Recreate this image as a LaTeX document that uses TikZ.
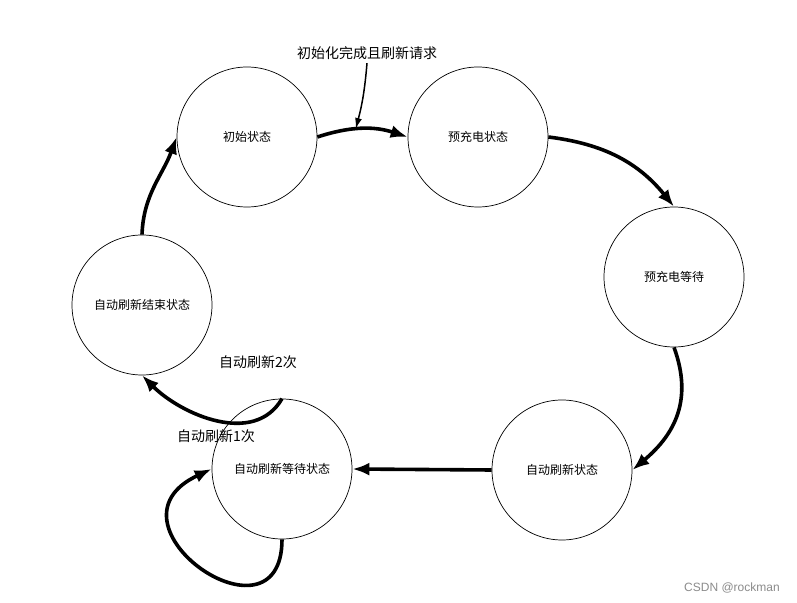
\documentclass[tikz,border=0pt]{standalone}
\usepackage{fontspec}
\setmainfont{Noto Sans CJK SC}
\newfontfamily\markfont{Liberation Sans}
\usetikzlibrary{arrows.meta}

\begin{document}
\begin{tikzpicture}[x=1pt, y=1pt,
  state/.style={draw, circle, line width=0.7pt, minimum size=140pt, inner sep=0pt,
    font=\fontsize{12}{14}\selectfont},
  trans/.style={line width=3.6pt, -{Latex[length=17pt, width=13pt]}},
  note/.style={font=\fontsize{14}{16}\selectfont}]
  \useasboundingbox (0,0) rectangle (797,602);
  \fill[white] (0,0) rectangle (797,602);

  % 状态
  \node[state] (init)    at (247,465) {初始状态};
  \node[state] (pre)     at (478,465) {预充电状态};
  \node[state] (prewait) at (674,325) {预充电等待};
  \node[state] (auto)    at (562,132) {自动刷新状态};
  \node[state] (wait)    at (282,133) {自动刷新等待状态};
  \node[state] (endst)   at (142,297) {自动刷新结束状态};

  % 转移
  \draw[trans] (init.east) to[bend left=18] coordinate[pos=0.42] (req) (pre.west);
  \draw[trans] (pre.east) to[bend left=22] (prewait.north);
  \draw[trans] (prewait.south) to[out=-70, in=40, looseness=1.1] (auto.east);
  \draw[trans] (auto.west) -- (wait.east);
  \draw[trans] (wait.south) .. controls +(-90:115) and +(205:130) .. (wait.west);
  \draw[trans] (wait.north) to[out=-120, in=-45] (endst.south);
  \draw[trans] (endst.north) to[out=88, in=-110] (init.west);

  % 标注
  \node[note] (reqlbl) at (367,549) {初始化完成且刷新请求};
  \draw[line width=1.5pt, -{Latex[length=11pt, width=7pt]}] (reqlbl.south) to[bend left=5] (req);
  \node[note] (twice) at (258,240) {自动刷新2次};
  \node[note] (once)  at (216,166) {自动刷新1次};

  \node[font=\markfont\fontsize{12}{14}\selectfont, text=black!45] (mark) at (732,14) {CSDN @rockman};
\end{tikzpicture}
\end{document}
